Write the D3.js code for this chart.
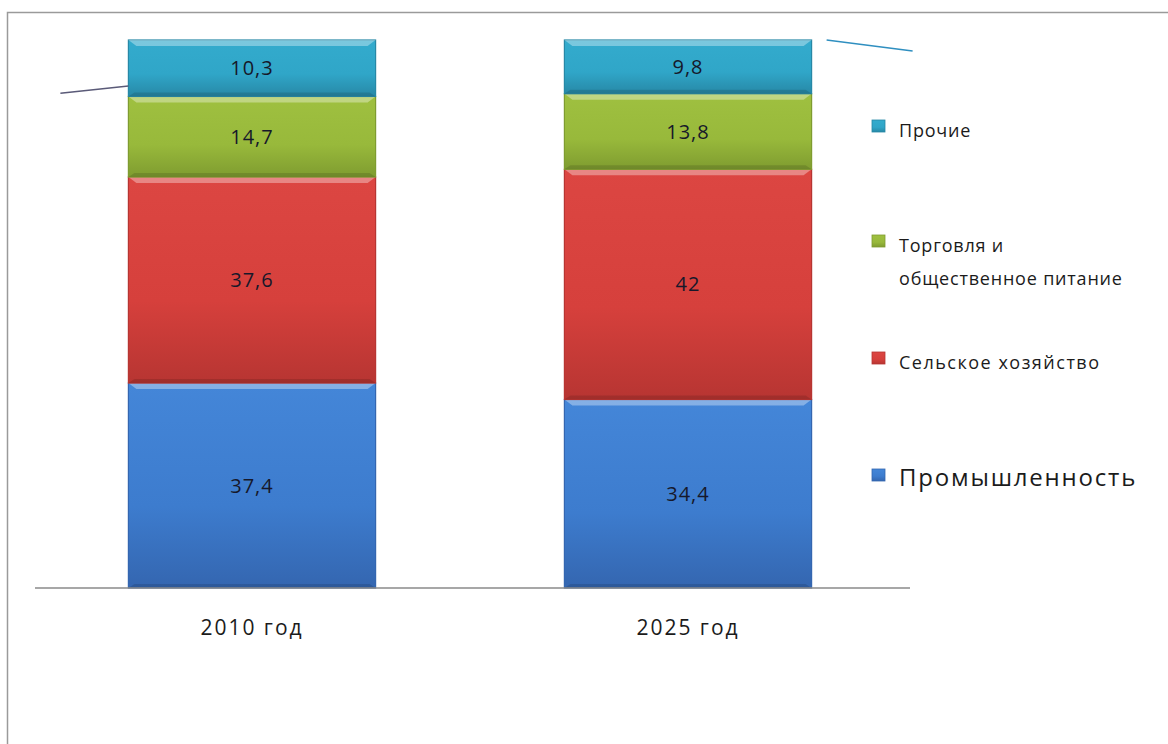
<!DOCTYPE html>
<html>
  <head>
    <meta charset="utf-8">
    <title>Структура</title>
    <script src="https://cdnjs.cloudflare.com/ajax/libs/d3/7.8.5/d3.min.js"></script>
    <style>
      body { margin:0; background:#fff; }
      text { font-family:"Open Sans", "DejaVu Sans", sans-serif; fill:#1b1b1b; }
    </style>
  </head>
  <body>
    <svg id="chart" width="1168" height="744"></svg>
    <script>
      // категории и ряды (снизу вверх)
      var years = ["2010 год", "2025 год"];
      var series = ["Промышленность", "Сельское хозяйство", "Торговля и общественное питание", "Прочие"];
      var industry = [37.4, 34.4];
      var agriculture = [37.6, 42];
      var trade = [14.7, 13.8];
      var other = [10.3, 9.8];
      var valueLabels = [["37,4", "34,4"], ["37,6", "42"], ["14,7", "13,8"], ["10,3", "9,8"]];

      var colors = {
        "Промышленность": ["#4486d8", "#3d7cce", "#3466b0"],
        "Сельское хозяйство": ["#dc4642", "#d6403c", "#b73532"],
        "Торговля и общественное питание": ["#9fc040", "#98b93b", "#7f9c30"],
        "Прочие": ["#33abcd", "#30a6c8", "#2788a6"]
      };

      var svg = d3.select("#chart");

      // рамка
      svg.append("rect")
        .attr("x", 7.5).attr("y", 12.5)
        .attr("width", 1200).attr("height", 800)
        .style("fill", "none").style("stroke", "#9a9a9a").style("stroke-width", 1.5);

      var x = d3.scaleBand().domain(years).range([34, 906]).paddingInner(0.433).paddingOuter(0.2165);
      var y = d3.scaleLinear().domain([0, 100]).range([588, 40]);

      var rows = years.map(function(yr, i) {
        return { year: yr, "Промышленность": industry[i], "Сельское хозяйство": agriculture[i],
                 "Торговля и общественное питание": trade[i], "Прочие": other[i] };
      });
      var stacked = d3.stack().keys(series)(rows);

      var defs = svg.append("defs");
      series.forEach(function(s, k) {
        var g = defs.append("linearGradient").attr("id", "g" + k)
          .attr("x1", 0).attr("y1", 0).attr("x2", 0).attr("y2", 1);
        g.append("stop").attr("offset", "0%").attr("stop-color", colors[s][0]);
        g.append("stop").attr("offset", "60%").attr("stop-color", colors[s][1]);
        g.append("stop").attr("offset", "100%").attr("stop-color", colors[s][2]);
      });

      var layers = svg.selectAll("g.layer").data(stacked).enter().append("g").attr("class", "layer");

      layers.each(function(layer, k) {
        var g = d3.select(this);
        var seg = g.selectAll("g.seg").data(layer).enter().append("g").attr("class", "seg");
        seg.append("rect")
          .attr("x", function(d) { return x(d.data.year); })
          .attr("y", function(d) { return y(d[1]); })
          .attr("width", x.bandwidth())
          .attr("height", function(d) { return y(d[0]) - y(d[1]); })
          .style("fill", "url(#g" + k + ")")
          .style("stroke", colors[series[k]][2]).style("stroke-width", 1.2);
        // светлая фаска сверху
        seg.append("path")
          .attr("d", function(d) {
            var x0 = x(d.data.year), x1 = x0 + x.bandwidth(), t = y(d[1]);
            return "M" + x0 + "," + t + " L" + x1 + "," + t + " L" + (x1 - 8) + "," + (t + 6) + " L" + (x0 + 8) + "," + (t + 6) + "Z";
          })
          .style("fill", "#ffffff").style("opacity", 0.35);
        // тень снизу
        seg.append("path")
          .attr("d", function(d) {
            var x0 = x(d.data.year), x1 = x0 + x.bandwidth(), b = y(d[0]);
            return "M" + x0 + "," + b + " L" + x1 + "," + b + " L" + (x1 - 6) + "," + (b - 4) + " L" + (x0 + 6) + "," + (b - 4) + "Z";
          })
          .style("fill", "#000000").style("opacity", 0.12);
        seg.append("text")
          .attr("x", function(d) { return x(d.data.year) + x.bandwidth() / 2; })
          .attr("y", function(d) { return (y(d[0]) + y(d[1])) / 2 + 7; })
          .attr("text-anchor", "middle")
          .style("font-size", "20px").style("letter-spacing", "1px").style("fill", "#16182a")
          .text(function(d, i) { return valueLabels[k][i]; });
      });

      // ось
      svg.append("line")
        .attr("x1", 35).attr("x2", 910).attr("y1", y(0)).attr("y2", y(0))
        .style("stroke", "#8a8a8a").style("stroke-width", 1.5);

      svg.selectAll("text.cat").data(years).enter().append("text")
        .attr("class", "cat")
        .attr("x", function(d) { return x(d) + x.bandwidth() / 2; })
        .attr("y", 635)
        .attr("text-anchor", "middle")
        .style("font-size", "21px").style("letter-spacing", "2px")
        .text(function(d) { return d; });

      // линии-артефакты у краёв
      svg.append("line")
        .attr("x1", x(years[0]) - 68).attr("y1", y(90.3))
        .attr("x2", x(years[0])).attr("y2", y(91.6))
        .style("stroke", "#5a5a78").style("stroke-width", 1.5);
      svg.append("line")
        .attr("x1", x(years[1]) + x.bandwidth() + 15).attr("y1", y(100))
        .attr("x2", x(years[1]) + x.bandwidth() + 101).attr("y2", y(98))
        .style("stroke", "#2f8fc0").style("stroke-width", 1.5);

      // легенда
      var legend = [
        { key: "Прочие", lines: ["Прочие"], y: 130, size: 18, ls: 0.8 },
        { key: "Торговля и общественное питание", lines: ["Торговля и", "общественное питание"], y: 245, size: 18, ls: 0.8 },
        { key: "Сельское хозяйство", lines: ["Сельское хозяйство"], y: 362, size: 18, ls: 1.5 },
        { key: "Промышленность", lines: ["Промышленность"], y: 479, size: 24, ls: 1.8 }
      ];
      var lg = svg.selectAll("g.lg").data(legend).enter().append("g").attr("class", "lg");
      lg.append("rect")
        .attr("x", 872).attr("y", function(d) { return d.y - 10; })
        .attr("width", 13).attr("height", 12)
        .style("fill", function(d) { return "url(#g" + series.indexOf(d.key) + ")"; })
        .style("stroke", function(d) { return colors[d.key][2]; }).style("stroke-width", 0.8);
      lg.each(function(d) {
        var t = d3.select(this).append("text")
          .attr("x", 899).attr("y", d.y + 7)
          .style("font-size", d.size + "px")
          .style("letter-spacing", d.ls + "px");
        d.lines.forEach(function(l, i) {
          t.append("tspan").attr("x", 899).attr("dy", i ? 33 : 0).text(l);
        });
      });
    </script>
  </body>
</html>
